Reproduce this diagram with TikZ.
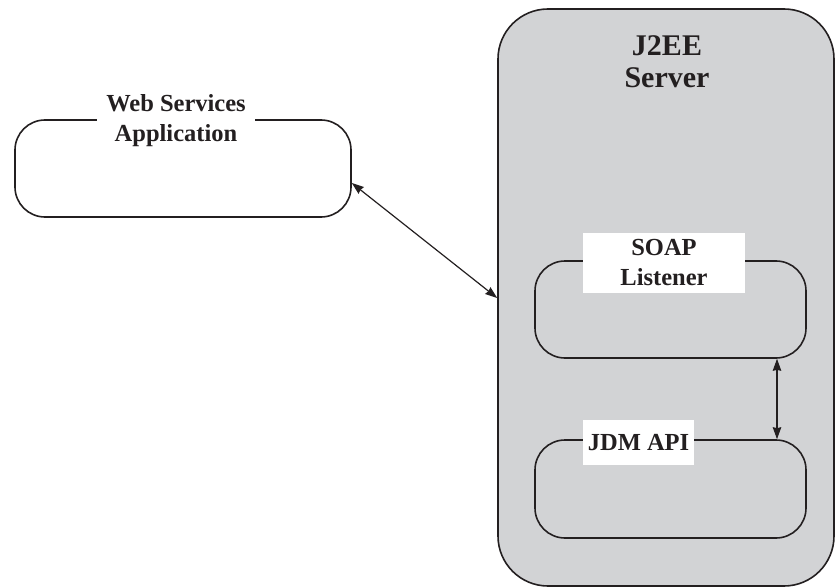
\documentclass[tikz,border=0pt]{standalone}
\usepackage{fontspec}
\setmainfont{Liberation Serif}
\usetikzlibrary{arrows.meta}
\definecolor{srvgray}{RGB}{210,211,213}
\definecolor{ink}{RGB}{35,31,32}
\begin{document}
\begin{tikzpicture}[x=1pt,y=-1pt,
  rbox/.style={draw=ink,line width=1.6pt,rounded corners=30pt,inner sep=0pt},
  lbl/.style={fill=white,align=center,inner sep=2pt,font=\bfseries\fontsize{24.5}{30}\selectfont,text=ink},
  conn/.style={draw=ink,line width=1.2pt,{Stealth[length=12pt,width=8.5pt,inset=1pt]}-{Stealth[length=12pt,width=8.5pt,inset=1pt]}}]
\useasboundingbox (0,0) rectangle (835,588);
\node[rbox,fill=srvgray,rounded corners=50pt,minimum width=336pt,minimum height=577pt] (server) at (666,297.5) {};
\node[font=\bfseries\fontsize{30}{32}\selectfont,text=ink,align=center] (srvlbl) at (667,62) {J2EE\\Server};
\node[rbox,minimum width=336pt,minimum height=97pt] (web) at (183,168.5) {};
\node[lbl,minimum width=158pt] (weblbl) at (176,121) {Web Services\\Application};
\node[rbox,minimum width=271pt,minimum height=97pt] (soap) at (670.5,309.5) {};
\node[lbl,minimum width=162pt,minimum height=60pt] (soaplbl) at (664,263) {SOAP\\Listener};
\node[rbox,minimum width=271pt,minimum height=98pt] (jdm) at (670.5,489) {};
\node[lbl,minimum width=111pt,minimum height=45pt] (jdmlbl) at (638.5,442.5) {JDM API};
\draw[conn] ([yshift=-14.5pt]web.east) -- ([yshift=-0.5pt]server.west);
\draw[conn] ([xshift=106.5pt]soap.south) -- ([xshift=106.5pt]jdm.north);
\end{tikzpicture}
\end{document}
